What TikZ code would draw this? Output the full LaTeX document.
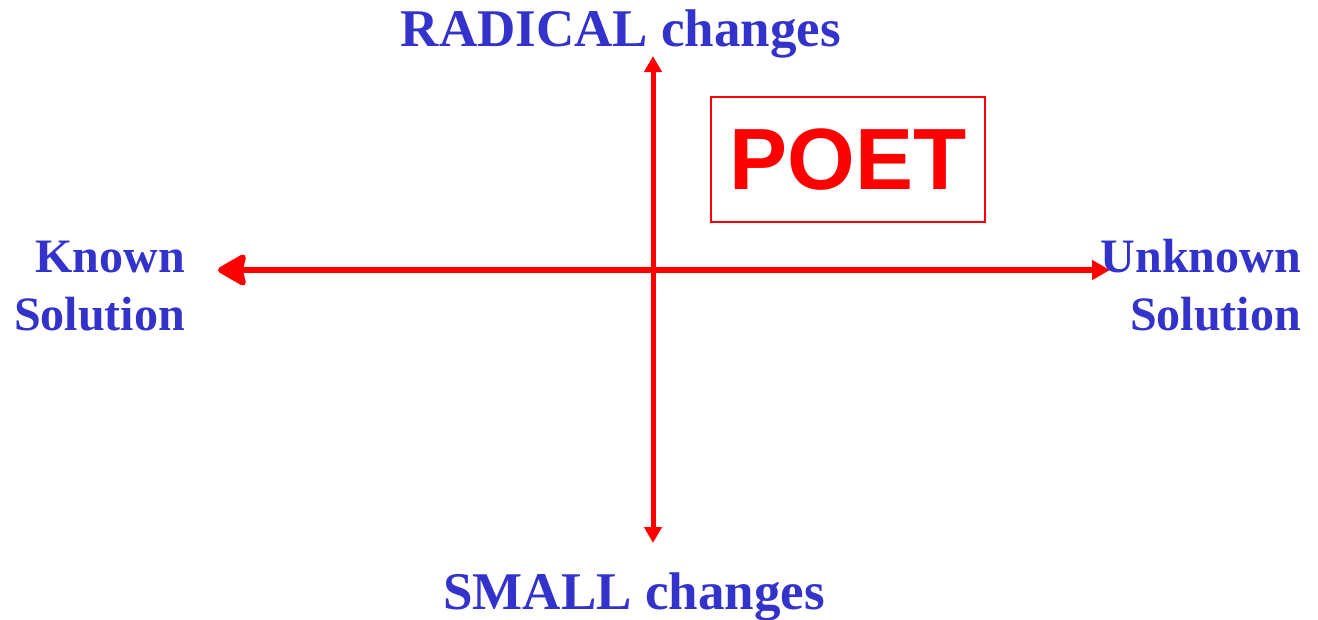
\documentclass[tikz,border=0pt]{standalone}
\usepackage{fontspec}
\setmainfont{Liberation Serif}
\newfontfamily\poetfont{Liberation Sans}
\usetikzlibrary{arrows.meta}
\definecolor{lblblue}{RGB}{51,51,204}
\definecolor{axred}{RGB}{255,0,0}
\begin{document}
\begin{tikzpicture}[x=1pt,y=-1pt,
  lbl/.style={text=lblblue,font=\fontsize{48}{58}\selectfont\bfseries,inner sep=0pt},
  biglbl/.style={lbl,font=\fontsize{53}{60}\selectfont\bfseries},
  axis/.style={draw=axred,line width=5.5pt}]
\useasboundingbox (0,0) rectangle (1318,619);
\coordinate (L) at (218,270);
\coordinate (R) at (1110,270);
\coordinate (T) at (653,56);
\coordinate (B) at (653,543);
\draw[axis,{Stealth[round,length=32pt,width=36pt,inset=4pt,line width=6pt]}-{Triangle[length=18pt,width=19pt]}] (L) -- (R);
\draw[axis,line width=5pt,{Triangle[length=16pt,width=17pt]}-{Triangle[length=16pt,width=17pt]}] (T) -- (B);
\node[biglbl,anchor=base] (rad) at (621,46) {RADICAL changes};
\node[biglbl,anchor=base] (sml) at (634,609) {SMALL changes};
\node[lbl,anchor=base east,align=right] (kn) at (185,272) {Known};
\node[lbl,anchor=base east,align=right] (ks) at (185,330) {Solution};
\node[lbl,anchor=base east,align=right] (un) at (1301,272) {Unknown};
\node[lbl,anchor=base east,align=right] (us) at (1301,330) {Solution};
\node[draw=axred,line width=1.5pt,minimum width=274pt,minimum height=125pt,inner sep=0pt,
  text=axred,font=\poetfont\fontsize{87}{87}\selectfont\bfseries] (poet) at (848,159.5) {POET};
\end{tikzpicture}
\end{document}
